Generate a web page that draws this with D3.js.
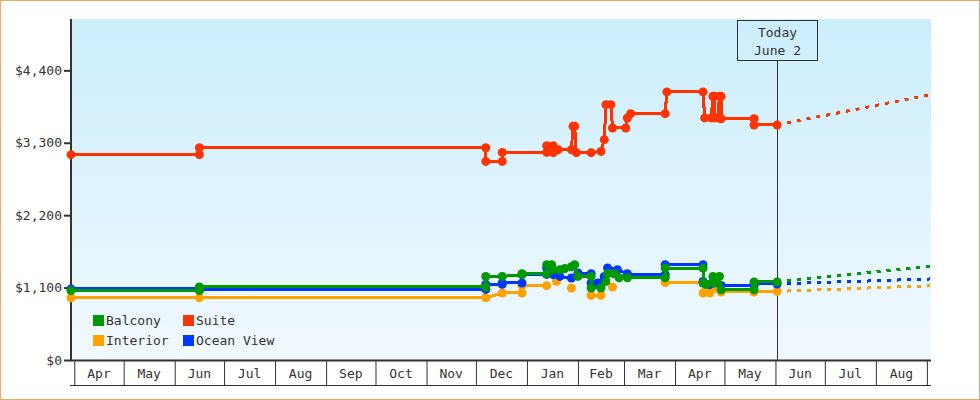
<!DOCTYPE html>
<html>
<head>
<meta charset="utf-8">
<script src="https://cdn.jsdelivr.net/npm/d3@7"></script>
<style>
body { margin: 0; background: #fff; }
svg text { font-family: "DejaVu Sans Mono", monospace; font-size: 13px; fill: #333; }
</style>
</head>
<body>
<svg id="chart" width="980" height="400"></svg>
<script>
// price history, pairs of [date, price]; two points on one date make a step
const balcony = [
  ["2022-03-30",1053],
  ["2022-06-16",1053],["2022-06-16",1109],
  ["2022-12-07",1109],["2022-12-07",1270],
  ["2022-12-17",1270],
  ["2022-12-29",1296],["2022-12-29",1311],
  ["2023-01-13",1311],["2023-01-13",1448],
  ["2023-01-16",1448],["2023-01-17",1372],
  ["2023-01-21",1372],["2023-01-24",1390],
  ["2023-01-28",1417],["2023-01-30",1448],
  ["2023-02-01",1270],
  ["2023-02-09",1270],["2023-02-09",1094],
  ["2023-02-15",1094],["2023-02-18",1194],["2023-02-19",1311],
  ["2023-02-23",1311],["2023-02-26",1250],
  ["2023-03-03",1250],
  ["2023-03-26",1250],["2023-03-26",1397],
  ["2023-04-18",1397],["2023-04-18",1170],
  ["2023-04-20",1144],["2023-04-24",1270],["2023-04-25",1170],
  ["2023-04-28",1270],["2023-04-29",1068],
  ["2023-05-19",1068],["2023-05-19",1185],
  ["2023-06-02",1185]
];
const suite = [
  ["2022-03-30",3119],
  ["2022-06-16",3119],["2022-06-16",3225],
  ["2022-12-07",3225],["2022-12-07",3017],
  ["2022-12-17",3017],["2022-12-17",3153],
  ["2023-01-13",3153],["2023-01-13",3256],
  ["2023-01-17",3256],["2023-01-17",3150],
  ["2023-01-20",3195],
  ["2023-01-28",3195],["2023-01-29",3549],
  ["2023-01-30",3549],["2023-01-31",3150],
  ["2023-02-09",3150],
  ["2023-02-15",3169],
  ["2023-02-17",3347],["2023-02-18",3879],
  ["2023-02-21",3879],["2023-02-22",3525],
  ["2023-03-02",3525],["2023-03-03",3676],["2023-03-05",3742],
  ["2023-03-26",3742],["2023-03-27",4072],
  ["2023-04-18",4072],["2023-04-19",3677],
  ["2023-04-23",3677],["2023-04-24",4005],["2023-04-25",4005],["2023-04-25",3677],
  ["2023-04-27",3677],["2023-04-28",4005],["2023-04-29",4005],["2023-04-29",3665],
  ["2023-05-19",3665],["2023-05-19",3570],
  ["2023-06-02",3570]
];
const interior = [
  ["2022-03-30",945],
  ["2022-06-16",945],
  ["2022-12-07",945],
  ["2022-12-17",1018],
  ["2022-12-29",1018],["2022-12-29",1129],
  ["2023-01-13",1129],
  ["2023-01-16",null],
  ["2023-01-19",1194],
  ["2023-01-23",null],
  ["2023-01-28",1094],
  ["2023-02-03",null],
  ["2023-02-09",981],["2023-02-15",981],
  ["2023-02-18",null],
  ["2023-02-22",1109],
  ["2023-03-01",null],
  ["2023-03-26",1178],
  ["2023-04-18",1178],["2023-04-18",1018],
  ["2023-04-22",1018],["2023-04-24",1079],["2023-04-29",1033],
  ["2023-05-19",1033],
  ["2023-06-02",1042]
];
const oceanView = [
  ["2022-03-30",1079],
  ["2022-06-16",1079],["2022-06-16",1072],
  ["2022-12-07",1072],["2022-12-07",1150],
  ["2022-12-17",1150],["2022-12-17",1170],
  ["2022-12-29",1170],["2022-12-29",1300],
  ["2023-01-13",1300],["2023-01-13",1397],
  ["2023-01-17",1296],["2023-01-21",1270],["2023-01-28",1245],
  ["2023-02-01",1322],
  ["2023-02-09",1310],["2023-02-09",1170],
  ["2023-02-13",1170],["2023-02-17",1270],["2023-02-19",1397],
  ["2023-02-25",1372],["2023-03-03",1311],["2023-03-03",1296],
  ["2023-03-26",1296],["2023-03-26",1448],
  ["2023-04-18",1448],["2023-04-18",1194],
  ["2023-04-22",1144],["2023-04-29",1133],
  ["2023-05-19",1133],["2023-05-19",1155],
  ["2023-06-02",1155]
];

// dotted forecast after today
const balconyForecast = [["2023-06-02",1185],["2023-09-03",1422]];
const suiteForecast = [["2023-06-02",3570],["2023-09-03",4031]];
const interiorForecast = [["2023-06-02",1042],["2023-09-03",1129]];
const oceanForecast = [["2023-06-02",1155],["2023-09-03",1231]];

const yTicks = [0, 1100, 2200, 3300, 4400];
const today = "2023-06-02";
const todayLabel = ["Today", "June 2"];

const parse = d3.timeParse("%Y-%m-%d");

var svg = d3.select("#chart");

// plot box (note: "top" is taken by window.top)
var plotL = 71, plotR = 931, plotT = 19, plotB = 360;

var x = d3.scaleTime()
  .domain([parse("2022-03-30"), new Date(2023, 8, 3, 12)])
  .range([plotL, plotR]);
var y = d3.scaleLinear().domain([0, 5180]).range([plotB, plotT]);

// outer frame
svg.append("rect")
  .attr("x", 0.5).attr("y", 0.5).attr("width", 979).attr("height", 399)
  .attr("fill", "#fff").attr("stroke", "#e8aa68");

var grad = svg.append("defs").append("linearGradient")
  .attr("id", "bg").attr("x1", 0).attr("y1", 0).attr("x2", 0).attr("y2", 1);
grad.append("stop").attr("offset", 0).attr("stop-color", "#cbeefc");
grad.append("stop").attr("offset", 1).attr("stop-color", "#f1f9fe");

svg.append("rect")
  .attr("x", plotL).attr("y", plotT)
  .attr("width", plotR - plotL).attr("height", plotB - plotT)
  .attr("fill", "url(#bg)");

// y axis
var yAxis = svg.append("g")
  .attr("transform", "translate(" + plotL + ",0)")
  .call(d3.axisLeft(y).tickValues(yTicks).tickSize(7).tickPadding(2)
    .tickFormat(d => "$" + d3.format(",")(d)));
yAxis.attr("font-size", null).attr("font-family", null);
yAxis.select(".domain").remove();
yAxis.selectAll(".tick line").attr("stroke", "#333").attr("stroke-width", 2);
yAxis.selectAll(".tick text").attr("fill", null);

svg.append("line")
  .attr("x1", plotL).attr("x2", plotL).attr("y1", plotT).attr("y2", plotB + 1)
  .attr("stroke", "#333").attr("stroke-width", 2);

// x axis: month boxes
var months = d3.timeMonth.range(parse("2022-04-01"), x.domain()[1]);
var xAxis = svg.append("g")
  .attr("transform", "translate(0," + (plotB + 1) + ")")
  .call(d3.axisBottom(x).tickValues(months).tickSize(24).tickFormat(""));
xAxis.select(".domain").remove();
xAxis.selectAll(".tick line").attr("stroke", "#333");

svg.append("line")
  .attr("x1", plotL - 1).attr("x2", plotR).attr("y1", plotB + 0.5).attr("y2", plotB + 0.5)
  .attr("stroke", "#333").attr("stroke-width", 2);
svg.append("line")
  .attr("x1", plotL - 1).attr("x2", plotR).attr("y1", 385.5).attr("y2", 385.5)
  .attr("stroke", "#333").attr("stroke-width", 1);

var fmtMonth = d3.timeFormat("%b");
svg.append("g").selectAll("text")
  .data(months.filter(m => d3.timeMonth.offset(m, 1) <= x.domain()[1]))
  .enter()
  .append("text")
  .attr("x", d => (x(d) + x(d3.timeMonth.offset(d, 1))) / 2)
  .attr("y", 378)
  .attr("text-anchor", "middle")
  .text(d => fmtMonth(d));

// today marker
var tx = Math.round(x(parse(today))) + 0.5;
svg.append("line")
  .attr("x1", tx).attr("x2", tx).attr("y1", 61).attr("y2", plotB)
  .attr("stroke", "#333").attr("stroke-width", 1);
svg.append("rect")
  .attr("x", tx - 40).attr("y", 20.5).attr("width", 80).attr("height", 40)
  .attr("fill", "none").attr("stroke", "#333");
svg.append("g").selectAll("text")
  .data(todayLabel)
  .enter()
  .append("text")
  .attr("x", tx)
  .attr("y", (d, i) => 37 + i * 18)
  .attr("text-anchor", "middle")
  .text(d => d);

// series
var series = [
  { name: "Suite", color: "#ff3300", data: suite, forecast: suiteForecast },
  { name: "Interior", color: "#ffa200", data: interior, forecast: interiorForecast },
  { name: "Ocean View", color: "#0037ff", data: oceanView, forecast: oceanForecast },
  { name: "Balcony", color: "#009900", data: balcony, forecast: balconyForecast }
];

var line = d3.line()
  .defined(d => d[1] != null)
  .x(d => x(parse(d[0])))
  .y(d => y(d[1]));

series.forEach(function(s) {
  svg.append("path")
    .datum(s.forecast)
    .attr("d", line)
    .attr("fill", "none")
    .attr("stroke", s.color)
    .attr("stroke-width", 3)
    .attr("stroke-dasharray", "4,6")
    .attr("shape-rendering", "crispEdges");
});

series.forEach(function(s) {
  var g = svg.append("g");
  g.append("path")
    .datum(s.data)
    .attr("d", line)
    .attr("fill", "none")
    .attr("stroke", s.color)
    .attr("stroke-width", 3)
    .attr("shape-rendering", "crispEdges");
  g.selectAll("circle")
    .data(s.data.filter(d => d[1] != null))
    .enter()
    .append("circle")
    .attr("cx", d => x(parse(d[0])))
    .attr("cy", d => y(d[1]))
    .attr("r", 4.5)
    .attr("fill", s.color);
});

// legend
var legendItems = [
  { name: "Balcony", color: "#009900", col: 0, row: 0 },
  { name: "Interior", color: "#ffa200", col: 0, row: 1 },
  { name: "Suite", color: "#ff3300", col: 1, row: 0 },
  { name: "Ocean View", color: "#0037ff", col: 1, row: 1 }
];
var legend = svg.append("g").selectAll("g")
  .data(legendItems)
  .enter()
  .append("g")
  .attr("transform", d => "translate(" + (93 + d.col * 90) + "," + (315 + d.row * 20) + ")");
legend.append("rect")
  .attr("width", 11).attr("height", 11)
  .attr("fill", d => d.color);
legend.append("text")
  .attr("x", 13).attr("y", 10)
  .text(d => d.name);
</script>
</body>
</html>
